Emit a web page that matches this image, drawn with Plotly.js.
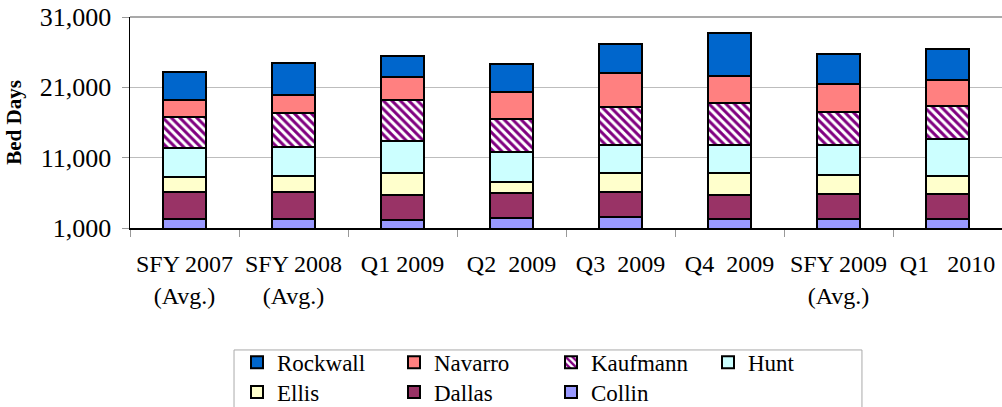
<!DOCTYPE html>
<html>
<head>
<meta charset="utf-8">
<script src="https://cdn.plot.ly/plotly-3.0.1.min.js"></script>
<style>html,body{margin:0;padding:0;background:#fff;}#chart{width:1002px;height:407px;}</style>
</head>
<body>
<div id="chart"></div>
<script>
const categories = ["SFY 2007<br>(Avg.)", "SFY 2008<br>(Avg.)", "Q1 2009", "Q2\u00a0\u00a02009", "Q3\u00a0\u00a02009", "Q4\u00a0\u00a02009", "SFY 2009<br>(Avg.)", "Q1\u00a0\u00a0\u00a02010"];
const collin   = [2225, 2225, 2180, 2470, 2610, 2225, 2325, 2225];
const dallas   = [3950, 3850, 3560, 3560, 3460, 3520, 3560, 3560];
const ellis    = [2140, 2380, 3130, 1570, 2710, 3130, 2710, 2660];
const hunt     = [4030, 4030, 4560, 4270, 3990, 3950, 4170, 5230];
const kaufmann = [4420, 4840, 5700, 4660, 5410, 5880, 4670, 4700];
const navarro  = [2380, 2620, 3380, 3790, 4840, 3850, 4030, 3650];
const rockwall = [4030, 4560, 2890, 3950, 4190, 6170, 4230, 4420];
const yTicks = [1000, 11000, 21000, 31000];

const font = "Liberation Serif";
const line = {color: "#000", width: 2};
function bar(name, y, color, legend, pattern) {
  const m = {color: color, line: line};
  if (pattern) m.pattern = pattern;
  return {type: "bar", name: name, x: categories, y: y, marker: m, legend: legend};
}
const data = [
  bar("Collin", collin, "#9999FF", "legend2"),
  bar("Dallas", dallas, "#993366", "legend2"),
  bar("Ellis", ellis, "#FFFFCC", "legend2"),
  bar("Hunt", hunt, "#CCFFFF", "legend"),
  bar("Kaufmann", kaufmann, "#FFFFFF", "legend", {shape: "\\", fgcolor: "#800080", bgcolor: "#FFFFFF", size: 6, solidity: 0.5}),
  bar("Navarro", navarro, "#FF8080", "legend"),
  bar("Rockwall", rockwall, "#0066CC", "legend")
];
function legendBox(yc) {
  return {
    orientation: "h", traceorder: "reversed", x: 0.1227, xanchor: "left",
    yref: "container", y: yc, yanchor: "middle",
    borderwidth: 0, bgcolor: "rgba(0,0,0,0)",
    entrywidth: 112, entrywidthmode: "pixels", itemwidth: 30,
    font: {family: font, size: 23, color: "#000"}
  };
}
const layout = {
  width: 1002, height: 407,
  margin: {l: 130, r: 0, t: 17, b: 179, pad: 0},
  barmode: "stack", bargap: 0.6,
  paper_bgcolor: "#fff", plot_bgcolor: "#fff",
  font: {family: font, color: "#000", size: 22},
  xaxis: {
    type: "category", tickangle: 0, ticks: "outside", tickson: "boundaries", automargin: false,
    ticklen: 7, tickcolor: "#999", showline: true, linecolor: "#000", linewidth: 1.5,
    showgrid: false, ticklabelstandoff: 14, tickfont: {family: font, size: 24, color: "#000"}
  },
  yaxis: {
    range: [1000, 31000], tickvals: yTicks, tickformat: ",", ticks: "outside", ticklen: 7, automargin: false,
    tickcolor: "#999", showline: true, linecolor: "#000", linewidth: 1.5,
    showgrid: true, gridcolor: "#bdbdbd", gridwidth: 1, zeroline: false, ticklabelstandoff: 5,
    tickfont: {family: font, size: 26, color: "#000"},
    title: {text: "<b>Bed Days</b>", font: {family: font, size: 21, color: "#000"}, standoff: 12}
  },
  showlegend: true,
  legend: legendBox(0.11),
  legend2: legendBox(0.037),
  shapes: [
    {type: "rect", xref: "paper", yref: "paper", x0: 0.1193, x1: 0.8394, y0: -0.578, y1: -0.95,
     line: {color: "#aaaaaa", width: 1}, fillcolor: "rgba(0,0,0,0)", layer: "below"},
    {type: "line", xref: "paper", yref: "paper", x0: 0, x1: 1, y0: 1, y1: 1,
     line: {color: "#8c8c8c", width: 1.5}, layer: "below"}
  ]
};
Plotly.newPlot("chart", data, layout, {displayModeBar: false, staticPlot: true});
</script>
</body>
</html>
